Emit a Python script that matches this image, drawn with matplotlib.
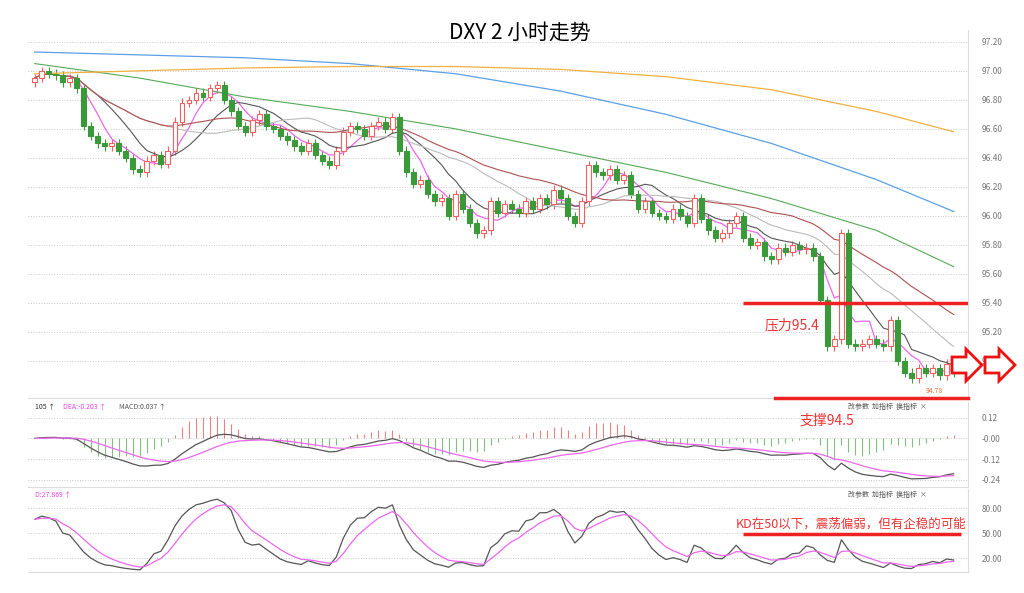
import numpy as np
import pandas as pd
import matplotlib
matplotlib.use('Agg')
import matplotlib.pyplot as plt
from matplotlib.patches import Rectangle, Polygon

plt.rcParams['font.family'] = ['Noto Sans CJK SC', 'DejaVu Sans']

# closing prices of the 2h candles
closes = [96.95, 97.00, 96.98, 96.97, 96.92, 96.95, 96.88, 96.62, 96.55, 96.50,
          96.48, 96.50, 96.45, 96.40, 96.32, 96.30, 96.38, 96.42, 96.36, 96.45,
          96.65, 96.78, 96.80, 96.85, 96.82, 96.88, 96.90, 96.80, 96.72, 96.62,
          96.58, 96.66, 96.70, 96.62, 96.60, 96.55, 96.52, 96.48, 96.45, 96.50,
          96.42, 96.38, 96.35, 96.45, 96.58, 96.62, 96.60, 96.55, 96.62, 96.65,
          96.60, 96.68, 96.45, 96.30, 96.22, 96.25, 96.15, 96.10, 96.12, 96.00,
          96.15, 96.05, 95.95, 95.88, 95.90, 96.10, 96.02, 96.08, 96.05, 96.02,
          96.10, 96.05, 96.12, 96.08, 96.18, 96.12, 96.00, 95.95, 96.10, 96.35,
          96.30, 96.28, 96.32, 96.25, 96.28, 96.15, 96.05, 96.10, 96.02, 96.00,
          95.98, 96.05, 96.00, 95.95, 96.12, 95.98, 95.90, 95.85, 95.88, 95.95,
          96.00, 95.85, 95.80, 95.82, 95.72, 95.70, 95.78, 95.75, 95.80, 95.77,
          95.78, 95.72, 95.42, 95.10, 95.15, 95.88, 95.12, 95.10, 95.12, 95.15,
          95.12, 95.10, 95.28, 95.00, 94.92, 94.88, 94.95, 94.92, 94.95, 94.90,
          94.98, 94.92]
first_open = 96.92

# long moving averages sampled every 15 candles
long_idx = [0, 15, 30, 45, 60, 75, 90, 105, 120, 131]
ma_blue = [97.13, 97.11, 97.09, 97.05, 96.98, 96.86, 96.70, 96.50, 96.25, 96.03]
ma_orange = [96.98, 97.00, 97.02, 97.03, 97.03, 97.01, 96.96, 96.87, 96.72, 96.58]
ma_green = [97.05, 96.95, 96.82, 96.72, 96.60, 96.45, 96.30, 96.12, 95.90, 95.65]

price_ticks = [95.00, 95.20, 95.40, 95.60, 95.80, 96.00, 96.20, 96.40, 96.60, 96.80, 97.00, 97.20]
macd_ticks = [0.12, 0.00, -0.12, -0.24]
kd_ticks = [80, 50, 20]

c = np.array(closes)
o = np.concatenate([[first_open], c[:-1]])
wick = 0.03
h = np.maximum(o, c) + wick
l = np.minimum(o, c) - wick
n = len(c)
x = np.arange(n)
s = pd.Series(c)

fig = plt.figure(figsize=(10.24, 5.93), dpi=100)
ax = fig.add_axes([0.027, 0.329, 0.918, 0.62])
am = fig.add_axes([0.027, 0.179, 0.918, 0.143])
ak = fig.add_axes([0.027, 0.035, 0.918, 0.14])

for a in (ax, am, ak):
    a.set_xlim(-1, n + 1)
    a.set_xticks([])
    a.yaxis.tick_right()
    a.tick_params(axis='y', labelsize=6, colors='#777777', length=0, pad=10)
    for sp in a.spines.values():
        sp.set_color('#dddddd')
    a.spines['left'].set_visible(False)
    a.spines['top'].set_visible(False)
    a.grid(axis='y', linestyle=':', color='#cccccc', lw=0.7)

# candles
up, dn = '#f06060', '#3a9a3a'
for i in range(n):
    col = up if c[i] >= o[i] else dn
    ax.vlines(i, l[i], h[i], color=col, lw=0.8, zorder=2)
    lo, hi = min(o[i], c[i]), max(o[i], c[i])
    ax.add_patch(Rectangle((i - 0.35, lo), 0.7, max(hi - lo, 0.005),
                           facecolor='white' if col == up else dn, edgecolor=col, lw=0.8, zorder=3))

ax.plot(x, s.rolling(5, min_periods=1).mean(), color='#ee66ee', lw=0.9)
ax.plot(x, s.rolling(10, min_periods=1).mean(), color='#555555', lw=0.8)
ax.plot(x, s.rolling(20, min_periods=1).mean(), color='#bbbbbb', lw=0.8)
ax.plot(x, s.rolling(30, min_periods=1).mean(), color='#b05050', lw=0.8)
ax.plot(long_idx, ma_green, color='#55aa55', lw=0.8)
ax.plot(long_idx, ma_blue, color='#5aa0e6', lw=0.9)
ax.plot(long_idx, ma_orange, color='#f0b040', lw=0.9)
ax.set_ylim(94.745, 97.28)
ax.set_yticks(price_ticks)
ax.set_yticklabels(['%.2f' % t for t in price_ticks])

ax.hlines(95.4, 101, n + 1, color='#ee2222', lw=2.5, zorder=5)
ax.text(104, 95.22, '压力95.4', color='#ee3333', fontsize=10)
ax.text(127, 94.78, '94.78', color='#f07030', fontsize=5)

# MACD
dif = s.ewm(span=12, adjust=False).mean() - s.ewm(span=26, adjust=False).mean()
dea = dif.ewm(span=9, adjust=False).mean()
hist = 2 * (dif - dea)
am.vlines(x, 0, hist, colors=np.where(hist >= 0, '#f08080', '#80c080'), lw=0.8)
am.plot(x, dif, color='#555555', lw=0.9)
am.plot(x, dea, color='#ee66ee', lw=0.9)
am.set_ylim(-0.28, 0.21)
am.set_yticks(macd_ticks)
am.set_yticklabels(['0.12', '-0.00', '-0.12', '-0.24'])
am.text(0, 0.17, '105 ↑', fontsize=5, color='#333333')
am.text(4, 0.17, 'DEA:-0.203 ↑', fontsize=5, color='#ee44ee')
am.text(12, 0.17, 'MACD:0.037 ↑', fontsize=5, color='#555555')
am.text(116, 0.17, '改参数  加指标  换指标  ×', fontsize=5, color='#555555')
am.text(109, 0.08, '支撑94.5', color='#ee3333', fontsize=10)

# KD
low9 = pd.Series(l).rolling(9, min_periods=1).min()
high9 = pd.Series(h).rolling(9, min_periods=1).max()
rsv = (s - low9) / (high9 - low9) * 100
k = rsv.ewm(alpha=1 / 3, adjust=False).mean()
d = k.ewm(alpha=1 / 3, adjust=False).mean()
ak.plot(x, k, color='#555555', lw=0.9)
ak.plot(x, d, color='#ee66ee', lw=0.9)
ak.set_ylim(3, 103)
ak.set_yticks(kd_ticks)
ak.set_yticklabels(['80.00', '50.00', '20.00'])
ak.text(0, 94, 'D:27.869 ↑', fontsize=5, color='#ee44ee')
ak.text(116, 94, '改参数  加指标  换指标  ×', fontsize=5, color='#555555')
ak.hlines(49, 101, n, color='#ee2222', lw=2.5)
ak.text(100, 57, 'KD在50以下，震荡偏弱，但有企稳的可能', color='#ee3333', fontsize=9)

# figure-level decorations
fig.text(0.508, 0.935, 'DXY 2 小时走势', ha='center', fontsize=15)
fig.add_artist(plt.Line2D([775 / 1024, 968 / 1024], [1 - 398 / 593] * 2, color='#ee2222', lw=2.5))
for x0 in (952, 985):
    pts = [(x0, 357), (x0 + 14, 357), (x0 + 14, 349), (x0 + 30, 365),
           (x0 + 14, 381), (x0 + 14, 373), (x0, 373)]
    fig.add_artist(Polygon([(px / 1024, 1 - py / 593) for px, py in pts],
                           closed=True, facecolor='white', edgecolor='#ee1111', lw=2))

fig.savefig('out.png', dpi=100, facecolor='white')
